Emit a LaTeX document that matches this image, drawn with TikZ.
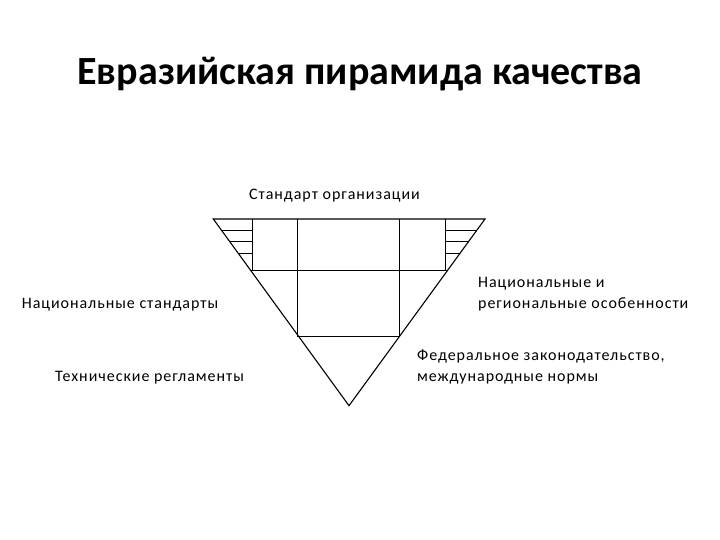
\documentclass[tikz,border=0pt]{standalone}
\usepackage{fontspec}
\setmainfont{Carlito}
\newfontfamily\lblfont[LetterSpace=6]{Carlito}
\usetikzlibrary{calc}
\begin{document}
\begin{tikzpicture}[x=1pt,y=-1pt,
  ln/.style={line width=1.1pt,black},
  thin/.style={line width=0.9pt,black},
  lbl/.style={inner sep=0pt,anchor=base west,font=\lblfont\fontsize{16}{21}\selectfont,align=left}]
\useasboundingbox[fill=white] (0,0) rectangle (720,540);
% title
\node[inner sep=0pt,anchor=base,font=\fontsize{40}{48}\selectfont\bfseries] (title) at (360,85) {Евразийская пирамида качества};
% triangle
\coordinate (tl) at (213.3,219);
\coordinate (tr) at (485,219);
\coordinate (ap) at (349,405.7);
\draw[ln,line join=miter] (tl) -- (tr) -- (ap) -- cycle;
% inner frames
\draw[thin] (252.3,219) -- (252.3,270);
\draw[thin] (445.7,219) -- (445.7,270);
\draw[thin] (297.7,219) -- (297.7,336.7);
\draw[thin] (399.3,219) -- (399.3,336.7);
\draw[thin] ($(tl)!0.273!(ap)$) -- ($(tr)!0.273!(ap)$);
\draw[thin] ($(tl)!0.63!(ap)$) -- ($(tr)!0.63!(ap)$);
% hatch
\foreach \yy in {230,241.5,253}{
  \draw[thin] ({213.3+0.727*(\yy-219)},\yy) -- (252.3,\yy);
  \draw[thin] ({485-0.728*(\yy-219)},\yy) -- (445.7,\yy);
}
% labels
\node[lbl] (so) at (249,200) {Стандарт организации};
\node[lbl] (ns) at (21.7,308) {Национальные стандарты};
\node[lbl] (tr2) at (55,381.7) {Технические регламенты};
\node[lbl] (nr) at (478,308) {Национальные и\\региональные особенности};
\node[lbl] (fz) at (417,381.7) {Федеральное законодательство,\\международные нормы};
\end{tikzpicture}
\end{document}
